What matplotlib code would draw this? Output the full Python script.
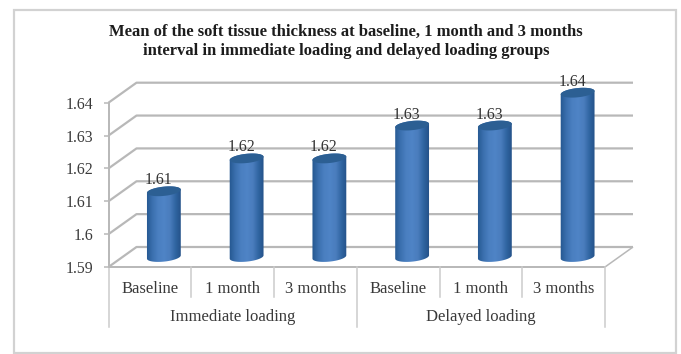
import numpy as np
import matplotlib
matplotlib.use("Agg")
import matplotlib.pyplot as plt
from matplotlib.patches import Polygon, Rectangle
from matplotlib.colors import LinearSegmentedColormap

plt.rcParams["font.family"] = ["Liberation Serif", "DejaVu Serif"]

title = ("Mean of the soft tissue thickness at baseline, 1 month and 3 months\n"
         "interval in immediate loading and delayed loading groups")
periods = ["Baseline", "1 month", "3 months", "Baseline", "1 month", "3 months"]
groups = ["Immediate loading", "Delayed loading"]
values = [1.61, 1.62, 1.62, 1.63, 1.63, 1.64]
value_ticks = [1.59, 1.60, 1.61, 1.62, 1.63, 1.64]
value_tick_labels = ["1.59", "1.6", "1.61", "1.62", "1.63", "1.64"]

W, H = 681, 354
LEFT, RIGHT, BASE, TOP = 108.5, 605.0, 267.0, 102.7
GRID = "#b8b8b8"
TEXT = "#3a3a3a"

fig = plt.figure(figsize=(W / 100, H / 100), dpi=100, facecolor="white")
fig.add_artist(Rectangle((14 / W, 1 - 352.5 / H), 662 / W, 343 / H,
                         transform=fig.transFigure, fill=False,
                         edgecolor="#d2d2d2", linewidth=1.6))
ax = fig.add_axes([LEFT / W, 1 - BASE / H, (RIGHT - LEFT) / W, (BASE - TOP) / H])
x0, x1 = -0.5, 5.5
y0, y1 = value_ticks[0], value_ticks[-1]
ax.set_xlim(x0, x1)
ax.set_ylim(y0, y1)
ax.patch.set_alpha(0)

# Pixel sizes expressed in data units, used for the oblique depth of the box
px_x = (x1 - x0) / (RIGHT - LEFT)
px_y = (y1 - y0) / (BASE - TOP)
depth_x, depth_y = 28 * px_x, 20 * px_y


def line(xs, ys, **kw):
    ax.plot(xs, ys, color=kw.pop("color", GRID), clip_on=False,
            solid_capstyle="butt", **kw)


# Back wall gridlines with their diagonal returns to the value axis
for v in value_ticks:
    line([x0, x0 + depth_x, x1 + depth_x], [v, v + depth_y, v + depth_y],
         linewidth=1.6, zorder=1)

# Floor edges
line([x1, x1 + depth_x], [y0, y0 + depth_y], linewidth=1.1, zorder=1)
line([x0, x1], [y0, y0], linewidth=1.4, zorder=2)

# Cylinders, set at half depth
cmap = LinearSegmentedColormap.from_list(
    "cyl", ["#24578f", "#3a6fae", "#4a7fc0", "#4f84c6", "#4a7dbd", "#2f64a0", "#234f85"])
half_w, tilt = 17 * px_x, np.radians(6)


def ellipse(xc, yc, t):
    ex = 17 * np.cos(t)
    ey = 4.6 * np.sin(t)
    xs = ex * np.cos(tilt) - ey * np.sin(tilt)
    ys = ex * np.sin(tilt) + ey * np.cos(tilt)
    return np.column_stack([xc + xs * px_x, yc + ys * px_y])


for i, v in enumerate(values):
    xc = i + depth_x / 2
    floor = y0 + depth_y / 2
    top = v + depth_y / 2
    lower = ellipse(xc, floor, np.linspace(np.pi, 2 * np.pi, 40))
    upper = ellipse(xc, top, np.linspace(0, np.pi, 40))
    body = Polygon(np.vstack([lower, upper]), closed=True, facecolor="none",
                   edgecolor="none", clip_on=False, zorder=3)
    ax.add_patch(body)
    im = ax.imshow(np.linspace(0, 1, 64)[None, :], cmap=cmap, aspect="auto",
                   extent=[xc - half_w * 1.05, xc + half_w * 1.05,
                           floor - 8 * px_y, top + 8 * px_y],
                   zorder=3, interpolation="bilinear")
    # The tallest cylinder rises above the axes box, so clip to the figure first
    im.set_clip_box(fig.bbox)
    im.set_clip_path(body)
    cap = ellipse(xc, top, np.linspace(0, 2 * np.pi, 60))
    ax.add_patch(Polygon(cap, closed=True, facecolor="#2c5f93", edgecolor="none",
                         clip_on=False, zorder=4))
    ax.text(xc - 5.5 * px_x, top + 11 * px_y, f"{v:.2f}", ha="center", va="center",
            fontsize=11.4, color="#333333", zorder=5)

ax.set_xlim(x0, x1)
ax.set_ylim(y0, y1)

# Value axis
for side in ("top", "right", "bottom", "left"):
    ax.spines[side].set_visible(False)
ax.set_yticks(value_ticks, value_tick_labels)
ax.tick_params(axis="y", length=3, width=1.1, color=GRID, pad=8,
               labelsize=11.4, labelcolor=TEXT)

# Two-level category axis
ax.set_xticks(range(len(periods)), periods)
ax.tick_params(axis="x", length=0, pad=10, labelsize=12, labelcolor=TEXT)
trans = ax.get_xaxis_transform()
short = -(296.7 - BASE) / (BASE - TOP)
long = -(326.7 - BASE) / (BASE - TOP)
for pos in (0.5, 1.5, 3.5, 4.5):
    ax.plot([pos, pos], [0, short], transform=trans, color="#cccccc",
            linewidth=1.1, clip_on=False, zorder=2)
for pos in (-0.5, 2.5, 5.5):
    ax.plot([pos, pos], [0, long], transform=trans, color="#cccccc",
            linewidth=1.1, clip_on=False, zorder=2)
ax.plot([x0, x0], [0, 1], transform=trans, color=GRID, linewidth=1.4,
        clip_on=False, zorder=2)
group_y = -(317 - BASE) / (BASE - TOP)
for label, centre in zip(groups, (1.0, 4.0)):
    ax.text(centre, group_y, label, transform=trans, ha="center", va="center",
            fontsize=12, color=TEXT)

fig.text(346 / W, 1 - 41.5 / H, title, ha="center", va="center", fontsize=12,
         fontweight="bold", color="#1c1c1c", linespacing=1.3)

fig.savefig("out.png", dpi=100)
